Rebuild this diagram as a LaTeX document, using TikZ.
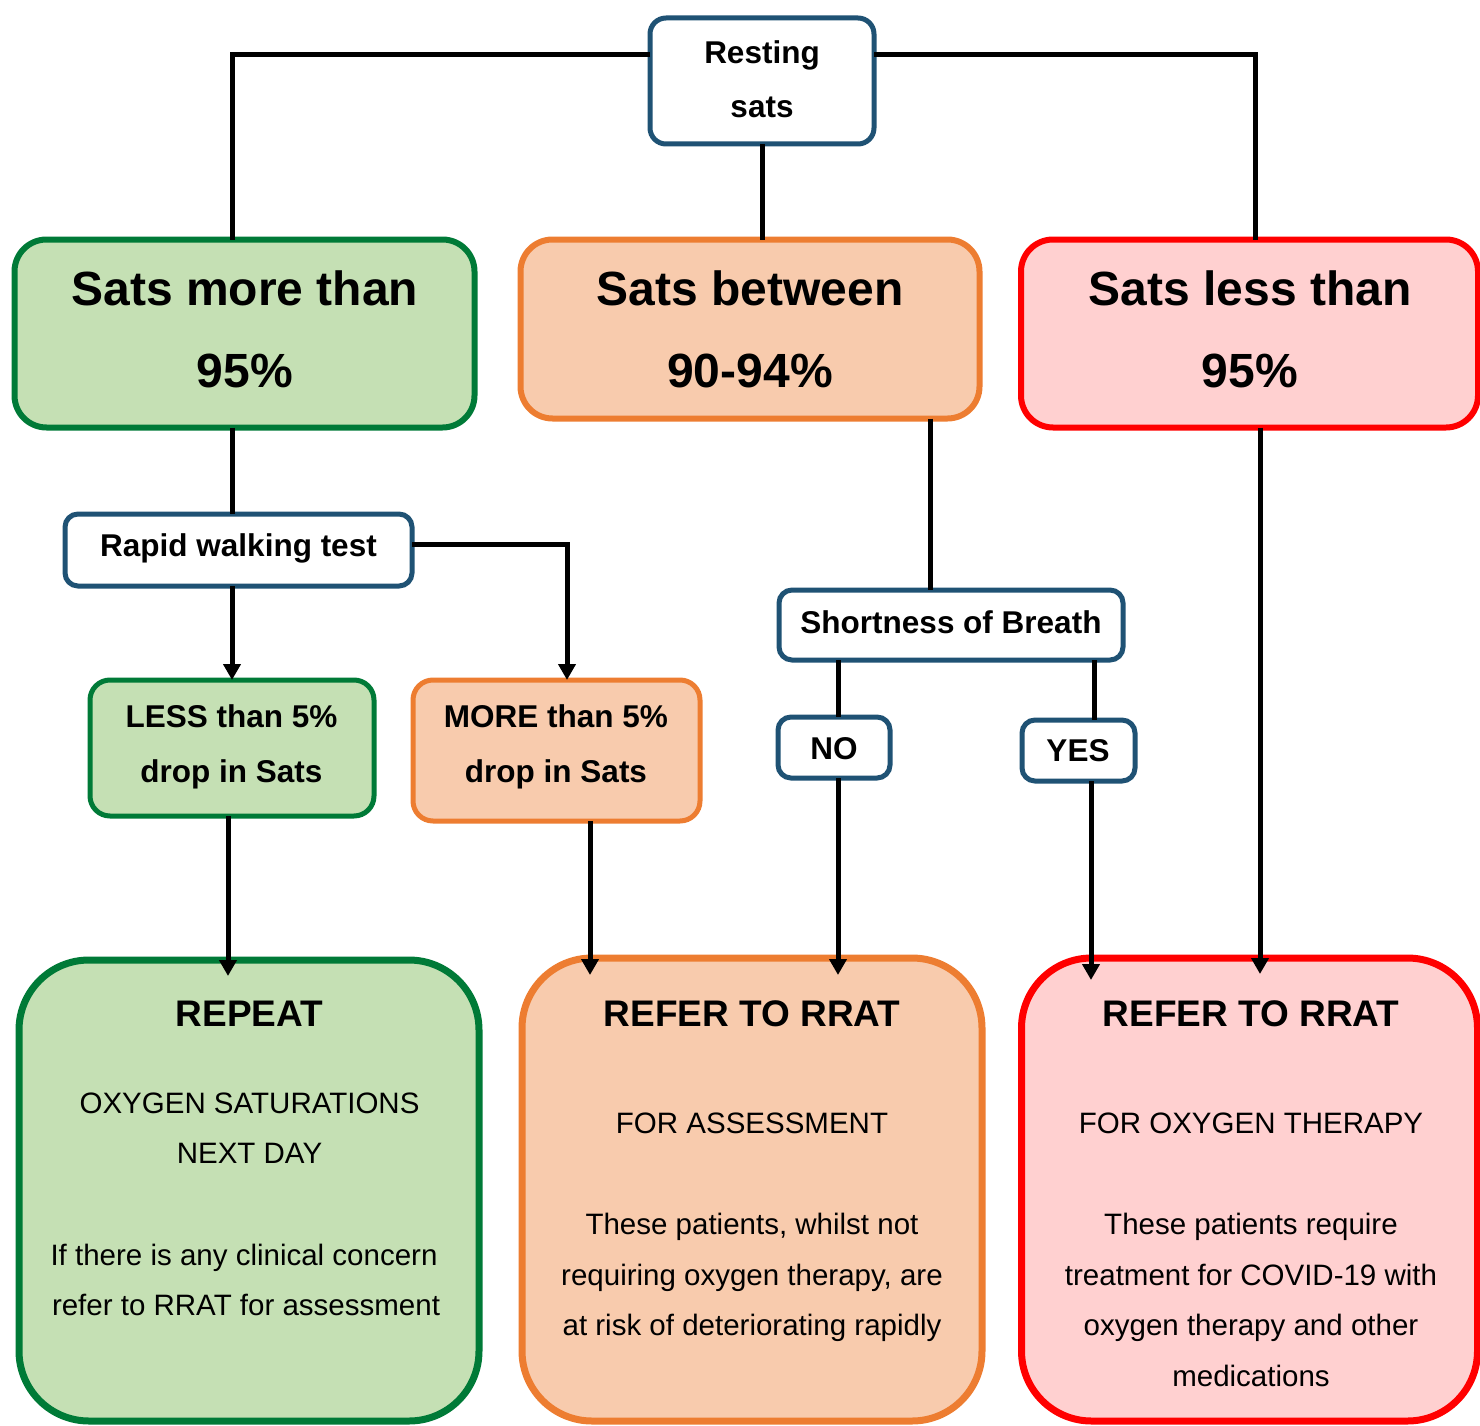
\documentclass[tikz,border=0pt]{standalone}
\usepackage{fontspec}
\setmainfont{Liberation Sans}
\usetikzlibrary{arrows.meta,calc}
\definecolor{navy}{HTML}{1F5274}
\definecolor{gborder}{HTML}{007A37}
\definecolor{gfill}{HTML}{C5E0B4}
\definecolor{oborder}{HTML}{ED7D31}
\definecolor{ofill}{HTML}{F8CBAD}
\definecolor{rborder}{HTML}{FF0000}
\definecolor{rfill}{HTML}{FFD0D0}
\begin{document}
\begin{tikzpicture}[x=1pt,y=-1pt,
  box/.style={draw, rectangle, inner sep=0pt, outer sep=0pt},
  bluebox/.style={box, draw=navy, fill=white, line width=5pt, rounded corners=16pt},
  greenbox/.style={box, draw=gborder, fill=gfill},
  orangebox/.style={box, draw=oborder, fill=ofill},
  redbox/.style={box, draw=rborder, fill=rfill},
  topbox/.style={line width=6pt, rounded corners=32pt},
  midbox/.style={line width=5pt, rounded corners=20pt},
  botbox/.style={line width=7pt, rounded corners=70pt},
  conn/.style={line width=5pt, draw=black},
  arr/.style={conn, -{Triangle[width=17pt,length=16pt]}},
  txt/.style={anchor=base, inner sep=0pt},
  big/.style={txt, font=\fontsize{48}{58}\selectfont\bfseries},
  mid/.style={txt, font=\fontsize{31.5}{38}\selectfont\bfseries},
  head/.style={txt, font=\fontsize{37}{44}\selectfont\bfseries},
  body/.style={txt, font=\fontsize{29.5}{35}\selectfont},
]
\useasboundingbox (0,0) rectangle (1480,1426);

% boxes
\node[bluebox, minimum width=224pt, minimum height=126pt] (rest) at (762,81) {};
\node[greenbox, topbox, minimum width=460pt, minimum height=188pt] (gtop) at (244.5,333.5) {};
\node[orangebox, topbox, minimum width=459pt, minimum height=179pt] (otop) at (750,329) {};
\node[redbox, topbox, minimum width=457pt, minimum height=188pt] (rtop) at (1249.5,333.5) {};
\node[bluebox, rounded corners=13pt, minimum width=347pt, minimum height=72pt] (rapid) at (238.5,550) {};
\node[greenbox, midbox, minimum width=284pt, minimum height=136pt] (less) at (232,748) {};
\node[orangebox, midbox, minimum width=287pt, minimum height=141pt] (more) at (556.5,750.5) {};
\node[bluebox, rounded corners=13pt, minimum width=344pt, minimum height=70pt] (sob) at (951,625) {};
\node[bluebox, rounded corners=13pt, minimum width=112pt, minimum height=61pt] (no) at (834,747.5) {};
\node[bluebox, rounded corners=13pt, minimum width=113pt, minimum height=61pt] (yes) at (1078.5,750.5) {};
\node[greenbox, botbox, minimum width=460pt, minimum height=461pt] (gbot) at (249,1190.5) {};
\node[orangebox, botbox, minimum width=460pt, minimum height=463pt] (obot) at (752,1189.5) {};
\node[redbox, botbox, minimum width=456pt, minimum height=463pt] (rbot) at (1249.5,1189.5) {};

% texts
\node[mid] (t-rest1) at (762,64) {Resting};
\node[mid] (t-rest2) at (762,118) {sats};
\node[big] (t-g1) at (245,305) {Sats more than};
\node[big] (t-g2) at (245,387) {95\%};
\node[big] (t-o1) at (750,305) {Sats between};
\node[big] (t-o2) at (750,387) {90-94\%};
\node[big] (t-r1) at (1250,305) {Sats less than};
\node[big] (t-r2) at (1250,387) {95\%};
\node[mid] (t-rapid) at (238.5,556) {Rapid walking test};
\node[mid] (t-less1) at (231.5,727) {LESS than 5\%};
\node[mid] (t-less2) at (231.5,782) {drop in Sats};
\node[mid] (t-more1) at (556,727) {MORE than 5\%};
\node[mid] (t-more2) at (556,782) {drop in Sats};
\node[mid] (t-sob) at (951,633) {Shortness of Breath};
\node[mid] (t-no) at (834,759) {NO};
\node[mid] (t-yes) at (1078,761) {YES};

\node[head] (t-gb0) at (249.5,1026) {REPEAT};
\node[body] (t-gb1) at (249.5,1113) {OXYGEN SATURATIONS};
\node[body] (t-gb2) at (249.5,1163) {NEXT DAY};
\node[body] (t-gb3) at (244,1265) {If there is any clinical concern};
\node[body] (t-gb4) at (246,1315) {refer to RRAT for assessment};

\node[head] (t-ob0) at (752,1026) {REFER TO RRAT};
\node[body] (t-ob1) at (752,1133) {FOR ASSESSMENT};
\node[body] (t-ob2) at (752,1234) {These patients, whilst not};
\node[body] (t-ob3) at (752,1285) {requiring oxygen therapy, are};
\node[body] (t-ob4) at (752,1335) {at risk of deteriorating rapidly};

\node[head] (t-rb0) at (1251,1026) {REFER TO RRAT};
\node[body] (t-rb1) at (1251,1133) {FOR OXYGEN THERAPY};
\node[body] (t-rb2) at (1251,1234) {These patients require};
\node[body] (t-rb3) at (1251,1285) {treatment for COVID-19 with};
\node[body] (t-rb4) at (1251,1335) {oxygen therapy and other};
\node[body] (t-rb5) at (1251,1386) {medications};

% connectors
\draw[conn] (rest.west |- 0,55) -| (232,0 |- gtop.north);
\draw[conn] (rest.east |- 0,55) -| (1255,0 |- rtop.north);
\draw[conn] (rest.south) -- (rest.south |- otop.north);
\draw[conn] (232,0 |- gtop.south) -- (232,0 |- rapid.north);
\draw[arr] (232,0 |- rapid.south) -- (less.north);
\draw[arr] (rapid.east |- 0,544) -| (567,0 |- more.north);
\draw[arr] (228,0 |- less.south) -- ($(228,0 |- gbot.north)+(0,16)$);
\draw[arr] (590,0 |- more.south) -- ($(590,0 |- obot.north)+(0,17)$);
\draw[conn] (930,0 |- otop.south) -- (930,0 |- sob.north);
\draw[conn] (838,0 |- sob.south) -- (838,0 |- no.north);
\draw[conn] (1094,0 |- sob.south) -- (1094,0 |- yes.north);
\draw[arr] (838,0 |- no.south) -- ($(838,0 |- obot.north)+(0,17)$);
\draw[arr] (1091,0 |- yes.south) -- ($(1091,0 |- rbot.north)+(0,22)$);
\draw[arr] (1260,0 |- rtop.south) -- ($(1260,0 |- rbot.north)+(0,16)$);
\end{tikzpicture}
\end{document}
